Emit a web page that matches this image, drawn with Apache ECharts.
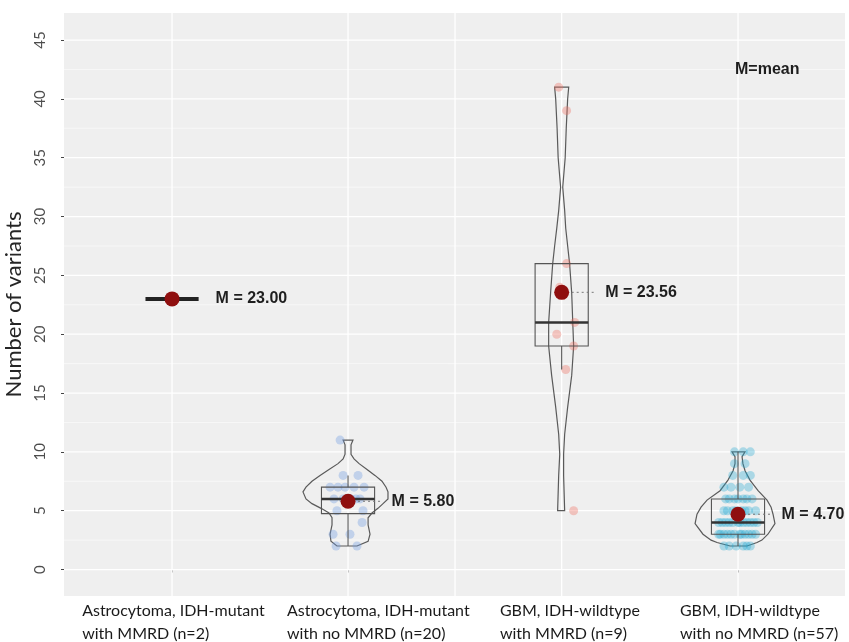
<!DOCTYPE html>
<html>
<head>
<meta charset="utf-8">
<script src="https://cdn.jsdelivr.net/npm/echarts@6/dist/echarts.min.js"></script>
<style>
html,body{margin:0;padding:0;background:#fff;}
#main{width:849px;height:642px;}
</style>
</head>
<body>
<div id="main"></div>
<script>
// categories and where they sit on the (uneven) x scale
const categories = [
  'Astrocytoma, IDH-mutant\nwith MMRD (n=2)',
  'Astrocytoma, IDH-mutant\nwith no MMRD (n=20)',
  'GBM, IDH-wildtype\nwith MMRD (n=9)',
  'GBM, IDH-wildtype\nwith no MMRD (n=57)'
]
const catX = [1, 2, 3.214, 4.216]
const labelX = [0.489, 1.653, 2.863, 3.886]   // left edge of each label block
const seamX = [2.608]
const yTicks = [0, 5, 10, 15, 20, 25, 30, 35, 40, 45]
const yMinor = [2.5, 7.5, 12.5, 17.5, 22.5, 27.5, 32.5, 37.5, 42.5]

// individual observations per group + horizontal jitter (x units)
const values1 = [23, 23]
const jitter1 = [-0.017, 0.011]
const values2 = [2, 2, 3, 3, 4, 5, 5, 6, 6, 6, 6, 6, 7, 7, 7, 7, 7, 8, 8, 11]
const jitter2 = [0.051, -0.068, -0.085, 0.011, 0.080, -0.063, 0.085, -0.028, 0.045, -0.080,
  0.017, 0.068, -0.102, -0.057, 0.034, 0.091, -0.017, -0.028, 0.057, -0.045]
const values3 = [41, 39, 26, 24, 21, 20, 19, 17, 5]
const jitter3 = [-0.017, 0.028, 0.028, -0.011, 0.074, -0.028, 0.068, 0.023, 0.068]
const values4 = [2, 2, 2, 2, 2, 2,
  3, 3, 3, 3, 3, 3, 3, 3, 3, 3, 3, 3,
  4, 4, 4, 4, 4, 4, 4, 4, 4, 4, 4, 4,
  5, 5, 5, 5, 5, 5, 5, 5,
  6, 6, 6, 6, 6, 6, 6,
  7, 7, 7, 7,
  8, 8, 8,
  9, 9,
  10, 10, 10]
const jitter4 = [-0.05, 0.03, 0.07, -0.01, 0.05, -0.08,
  -0.10, -0.06, -0.02, 0.02, 0.06, 0.10, -0.08, -0.04, 0.01, 0.04, 0.08, -0.11,
  -0.09, -0.05, 0.00, 0.05, 0.09, -0.07, -0.03, 0.03, 0.07, 0.11, -0.11, 0.01,
  -0.08, -0.03, 0.02, 0.06, 0.10, -0.06, 0.04, -0.01,
  -0.07, -0.02, 0.03, 0.08, -0.05, 0.05, 0.00,
  -0.04, 0.01, 0.06, -0.08,
  -0.03, 0.03, 0.07,
  -0.02, 0.04,
  -0.02, 0.03, 0.07]

// box plot stats
const boxLow = [23, 2, 17, 2]
const boxQ1 = [23, 4.75, 19, 3]
const boxMedian = [23, 6, 21, 4]
const boxQ3 = [23, 7, 26, 6]
const boxHigh = [23, 8, 26, 10]
const meanValues = [23.00, 5.80, 23.56, 4.70]
const meanLabels = ['M = 23.00', 'M = 5.80', 'M = 23.56', 'M = 4.70']

// violin outlines: [value, left half-width, right half-width] (x units)
const violin1 = []
const violin2 = [[11.0, .028, .028], [10.6, .017, .017], [9.8, .017, .017], [9.4, .028, .034],
  [9.0, .057, .063], [8.5, .108, .108], [8.0, .159, .153], [7.5, .205, .193], [7.0, .239, .216],
  [6.6, .256, .227], [6.0, .239, .227], [5.6, .205, .199], [5.2, .153, .170], [4.8, .108, .136],
  [4.4, .091, .114], [3.8, .091, .114], [3.0, .102, .125], [2.4, .097, .114], [2.0, .063, .051]]
const violin3 = [[41.0, .040, .040], [40.0, .034, .034], [37.5, .026, .026], [35.0, .020, .020],
  [32.5, .006, .006], [30.5, .017, .017], [29.0, .028, .023], [27.5, .040, .034], [26.0, .051, .045],
  [23.5, .063, .057], [21.0, .074, .063], [19.0, .074, .068], [16.5, .057, .057], [13.8, .034, .034],
  [11.5, .017, .017], [9.8, .011, .011], [8.0, .017, .011], [5.0, .023, .017]]
const violin4 = [[10.0, .034, .040], [9.6, .017, .023], [9.0, .017, .028], [8.4, .028, .040],
  [7.6, .057, .068], [6.7, .102, .114], [5.9, .176, .165], [5.3, .210, .188], [4.7, .233, .199],
  [3.9, .244, .210], [3.0, .199, .170], [2.5, .153, .136], [2.3, .119, .108], [2.0, .045, .051]]

const groupValues = [values1, values2, values3, values4]
const groupJitter = [jitter1, jitter2, jitter3, jitter4]
const violins = [violin1, violin2, violin3, violin4]
const groupColors = ['rgba(170,25,25,0.85)', 'rgba(110,155,225,0.45)', 'rgba(238,110,98,0.45)', 'rgba(35,170,210,0.42)']
const boxHalf = 0.151

let chart = echarts.init(document.getElementById('main'))

function gridItem (params, api) {
  let children = []
  let top = api.coord([catX[0], 47.3])[1]
  let bottom = api.coord([catX[0], -2.25])[1]
  let left = api.coord([0.386, 0])[0]
  let right = api.coord([4.824, 0])[0]
  yMinor.forEach(v => {
    let y = api.coord([1, v])[1]
    children.push({type: 'line', shape: {x1: left, y1: y, x2: right, y2: y}, style: {stroke: '#fafafa', lineWidth: 0.7}})
  })
  yTicks.forEach(v => {
    let y = api.coord([1, v])[1]
    children.push({type: 'line', shape: {x1: left, y1: y, x2: right, y2: y}, style: {stroke: '#ffffff', lineWidth: 1.3}})
  })
  catX.concat(seamX).forEach(v => {
    let x = api.coord([v, 0])[0]
    children.push({type: 'line', shape: {x1: x, y1: top, x2: x, y2: bottom}, style: {stroke: '#ffffff', lineWidth: 1.3}})
  })
  return {type: 'group', children: children}
}

function violinItem (params, api) {
  let i = params.dataIndex
  let prof = violins[i]
  if (!prof.length) return
  let pts = []
  prof.forEach(r => pts.push(api.coord([catX[i] - r[1], r[0]])))
  for (let k = prof.length - 1; k >= 0; k--) {
    pts.push(api.coord([catX[i] + prof[k][2], prof[k][0]]))
  }
  return {type: 'polygon', shape: {points: pts}, style: {fill: 'none', stroke: '#5a5a5a', lineWidth: 1.2}}
}

function boxItem (params, api) {
  let i = params.dataIndex
  let cx = catX[i]
  let l = api.coord([cx - boxHalf, boxQ3[i]])
  let r = api.coord([cx + boxHalf, boxQ1[i]])
  let c = api.coord([cx, 0])[0]
  let med = api.coord([cx, boxMedian[i]])[1]
  let yLow = api.coord([cx, boxLow[i]])[1]
  let yHigh = api.coord([cx, boxHigh[i]])[1]
  let children = []
  if (i === 0) {
    children.push({type: 'line', shape: {x1: l[0], y1: med, x2: r[0], y2: med}, style: {stroke: '#222', lineWidth: 4}})
    return {type: 'group', children: children}
  }
  children.push({type: 'line', shape: {x1: c, y1: r[1], x2: c, y2: yLow}, style: {stroke: '#555', lineWidth: 1.1}})
  children.push({type: 'line', shape: {x1: c, y1: l[1], x2: c, y2: yHigh}, style: {stroke: '#555', lineWidth: 1.1}})
  children.push({type: 'rect', shape: {x: l[0], y: l[1], width: r[0] - l[0], height: r[1] - l[1]},
    style: {fill: 'none', stroke: '#555', lineWidth: 1.1}})
  children.push({type: 'line', shape: {x1: l[0], y1: med, x2: r[0], y2: med}, style: {stroke: '#333', lineWidth: 2.6}})
  return {type: 'group', children: children}
}

function meanLabelItem (params, api) {
  let i = params.dataIndex
  let p = api.coord([catX[i], meanValues[i]])
  let bx = api.coord([catX[i] + boxHalf, 0])[0]
  let children = []
  if (i > 0) {
    children.push({type: 'line', shape: {x1: p[0], y1: p[1], x2: bx + 6, y2: p[1]},
      style: {stroke: '#777', lineWidth: 1, lineDash: [2, 3]}})
  }
  children.push({type: 'text', x: bx + 17, y: p[1],
    style: {text: meanLabels[i], fill: '#1e1e1e', fontFamily: 'Liberation Sans', fontWeight: 'bold', fontSize: 16,
      verticalAlign: 'middle', align: 'left'}})
  return {type: 'group', children: children}
}

let pointSeries = groupValues.map((vals, g) => ({
  type: 'scatter',
  data: vals.map((v, k) => [catX[g] + groupJitter[g][k], v]),
  symbolSize: 9,
  itemStyle: {color: groupColors[g]},
  silent: true,
  z: 3
}))

let option = {
  animation: false,
  backgroundColor: '#ffffff',
  grid: {
    left: 64, right: 4, top: 13, bottom: 46,
    outerBoundsMode: 'none',
    containLabel: false,
    show: true, backgroundColor: '#efefef', borderWidth: 0
  },
  xAxis: {
    type: 'value',
    min: 0.386,
    max: 4.824,
    axisLine: {show: false},
    splitLine: {show: false},
    axisTick: {show: true, length: 3, customValues: catX, lineStyle: {color: '#444'}},
    axisLabel: {
      customValues: labelX,
      align: 'left',
      margin: 3,
      fontFamily: 'Lato',
      fontSize: 16,
      lineHeight: 23,
      color: '#1a1a1a',
      formatter: (v) => {
        let i = labelX.findIndex(x => Math.abs(x - v) < 1e-6)
        return i >= 0 ? categories[i] : ''
      }
    }
  },
  yAxis: {
    type: 'value',
    min: -2.25,
    max: 47.3,
    name: 'Number of variants',
    nameLocation: 'middle',
    nameGap: 32,
    nameRotate: 90,
    nameTextStyle: {fontFamily: 'Lato', fontSize: 22, color: '#262626'},
    axisLine: {show: false},
    splitLine: {show: false},
    axisTick: {show: true, length: 3, customValues: yTicks, lineStyle: {color: '#444'}},
    axisLabel: {
      customValues: yTicks,
      rotate: 90,
      margin: 16,
      fontFamily: 'Lato',
      fontSize: 15,
      color: '#4d4d4d'
    }
  },
  graphic: [{
    type: 'text', left: 735, top: 62, z: 100,
    style: {text: 'M=mean', fontFamily: 'Liberation Sans', fontWeight: 'bold', fontSize: 16, fill: '#1e1e1e'}
  }],
  series: [
    {type: 'custom', renderItem: gridItem, data: [[1, 0]], silent: true, z: 1},
    {type: 'custom', renderItem: violinItem, data: catX.map((x, i) => [x, boxMedian[i]]), silent: true, z: 2}
  ].concat(pointSeries).concat([
    {type: 'custom', renderItem: boxItem, data: catX.map((x, i) => [x, boxMedian[i]]), silent: true, z: 4},
    {type: 'custom', renderItem: meanLabelItem, data: catX.map((x, i) => [x, meanValues[i]]), silent: true, z: 5},
    {
      type: 'scatter',
      data: catX.map((x, i) => [x, meanValues[i]]),
      symbolSize: 15,
      itemStyle: {color: '#8f0f0f', opacity: 1},
      silent: true,
      z: 6
    }
  ])
}
chart.setOption(option)
</script>
</body>
</html>
